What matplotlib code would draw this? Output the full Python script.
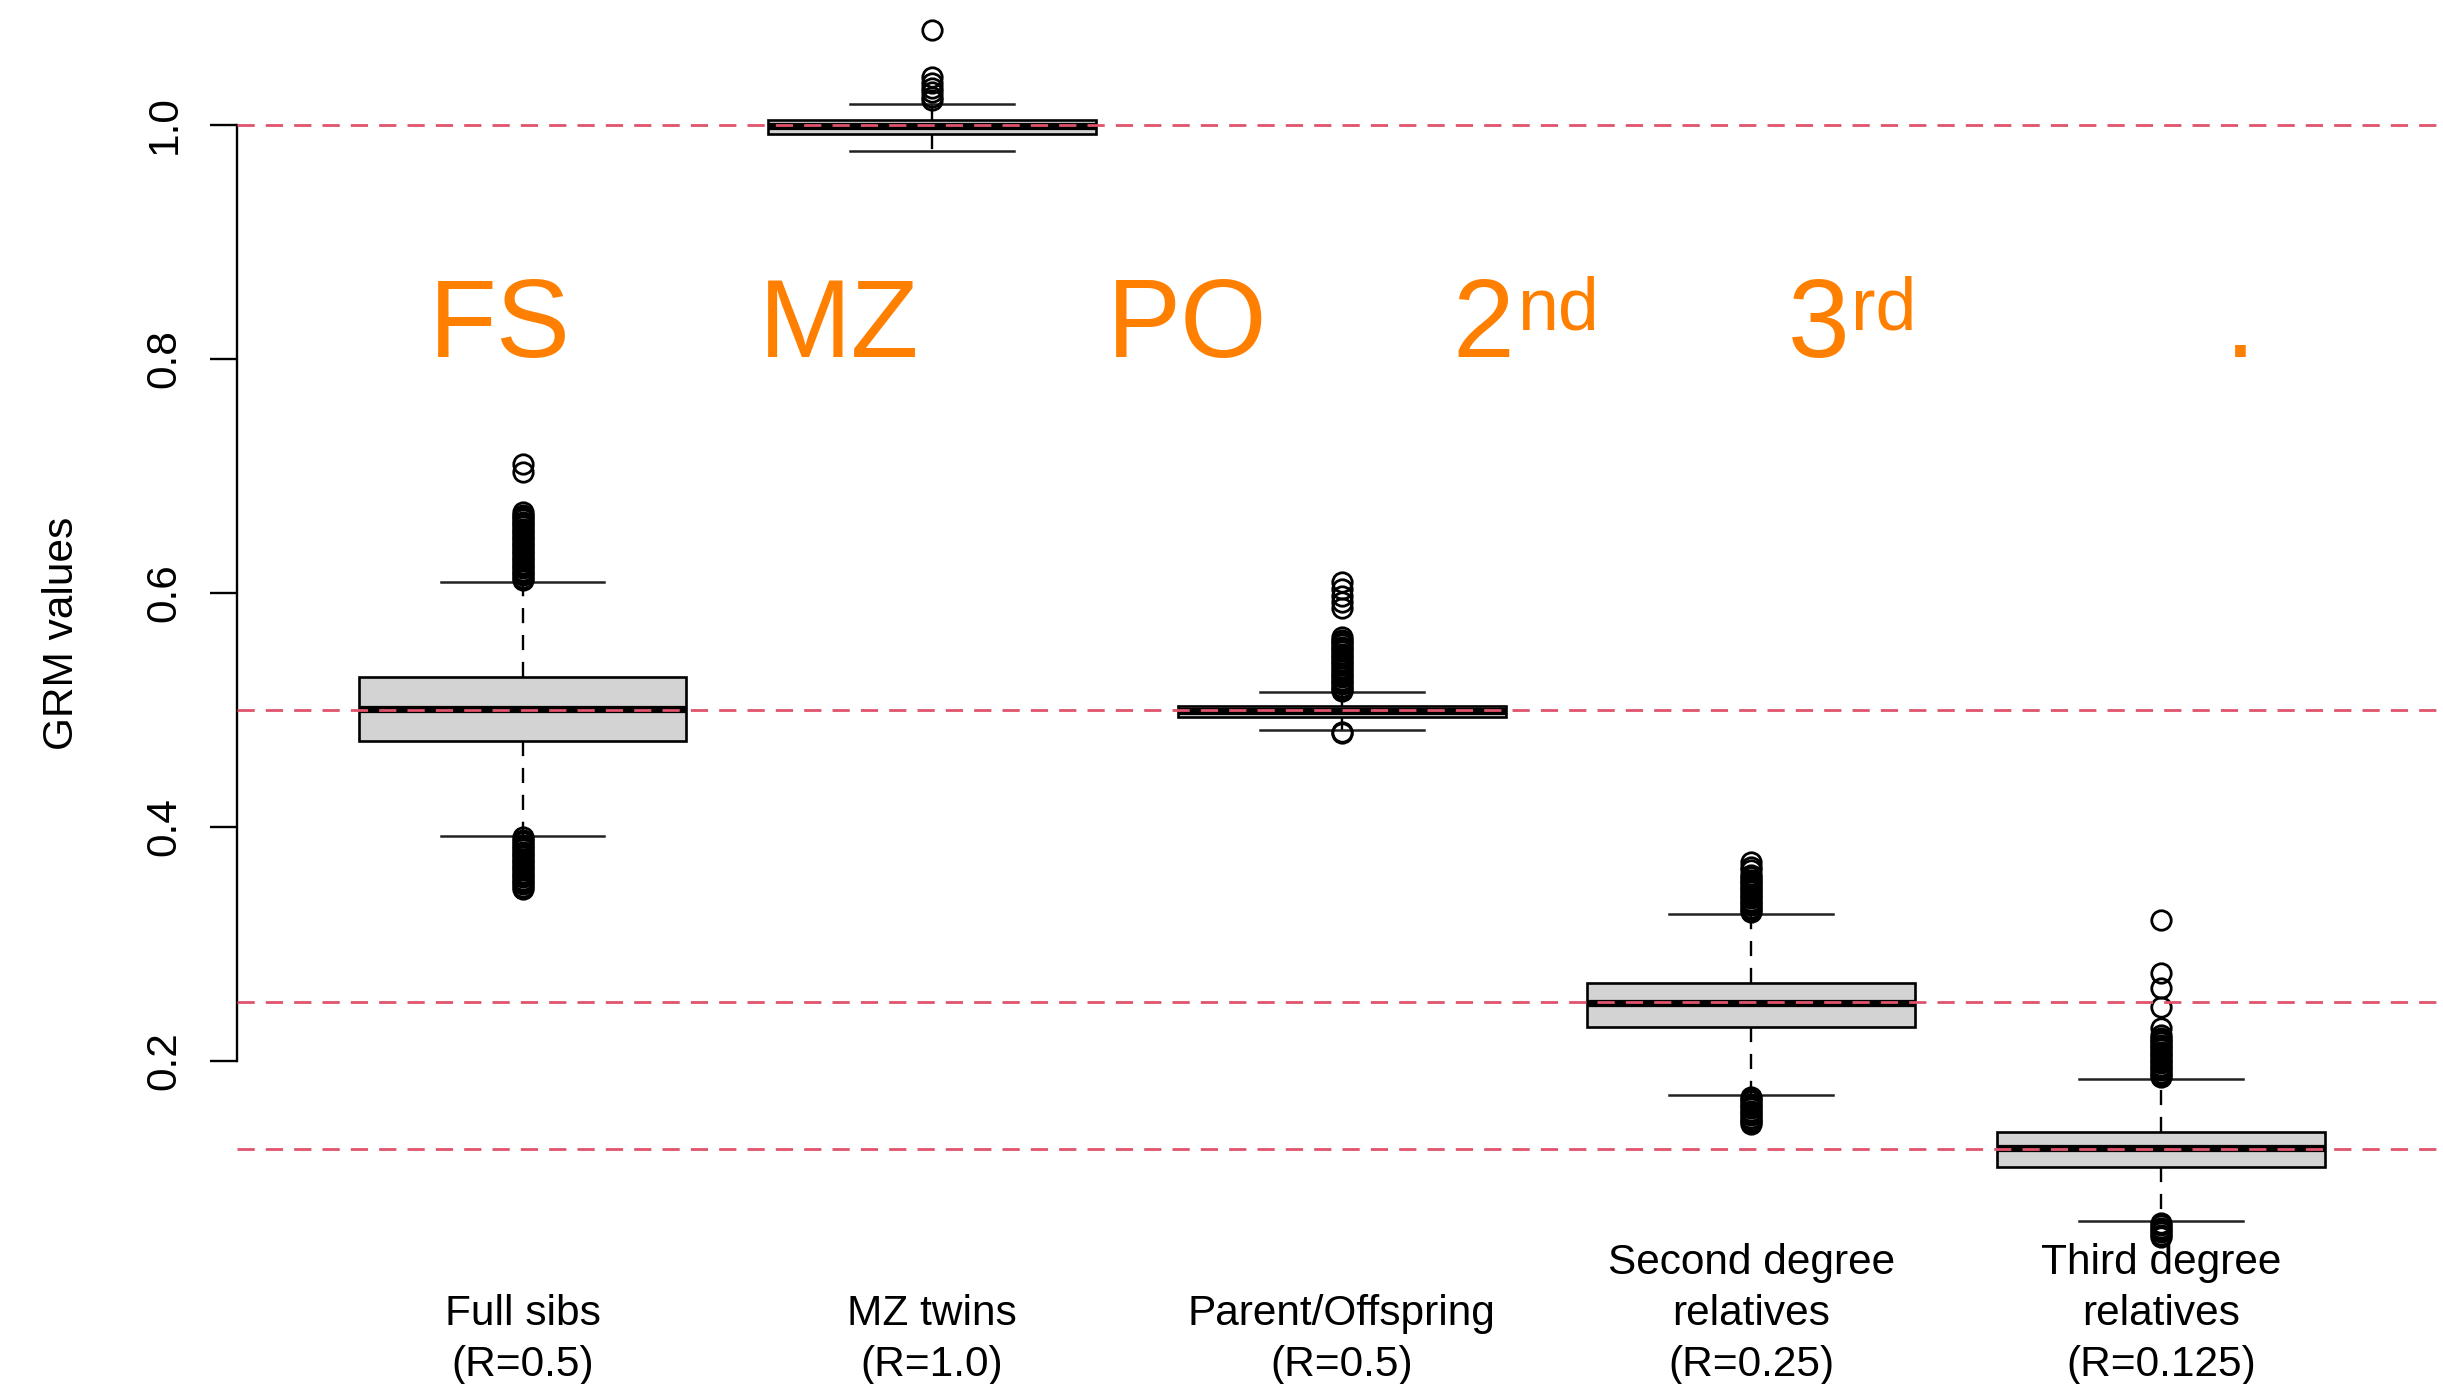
import matplotlib
matplotlib.use("Agg")
import matplotlib.pyplot as plt
from matplotlib.transforms import blended_transform_factory

plt.rcParams['font.family'] = ['Liberation Sans', 'DejaVu Sans']

# ---- data -------------------------------------------------------------
categories = [
    "Full sibs\n(R=0.5)",
    "MZ twins\n(R=1.0)",
    "Parent/Offspring\n(R=0.5)",
    "Second degree\nrelatives\n(R=0.25)",
    "Third degree\nrelatives\n(R=0.125)",
]
expected_r = [1.0, 0.5, 0.25, 0.125]

q1 = [0.4738, 0.9920, 0.4943, 0.2288, 0.1091]
medians = [0.5006, 0.9990, 0.4994, 0.2498, 0.1254]
q3 = [0.5285, 1.0043, 0.5037, 0.2669, 0.1390]
whisker_low = [0.3923, 0.9780, 0.4829, 0.1709, 0.0632]
whisker_high = [0.6097, 1.0182, 0.5151, 0.3256, 0.1843]

outliers_fs = [
    0.611, 0.613, 0.615, 0.617, 0.619, 0.621, 0.623, 0.625, 0.627, 0.629,
    0.631, 0.633, 0.635, 0.637, 0.639, 0.641, 0.643, 0.645, 0.647, 0.649,
    0.651, 0.653, 0.655, 0.657, 0.659, 0.661, 0.663, 0.665, 0.667, 0.669,
    0.703, 0.710,
    0.391, 0.389, 0.387, 0.385, 0.383, 0.381, 0.379, 0.377, 0.375, 0.373,
    0.371, 0.369, 0.367, 0.365, 0.363, 0.361, 0.359, 0.357, 0.355, 0.353,
    0.351, 0.349, 0.347,
]
outliers_mz = [1.021, 1.024, 1.028, 1.032, 1.036, 1.041, 1.081]
outliers_po = [
    0.516, 0.518, 0.520, 0.522, 0.524, 0.526, 0.528, 0.530, 0.532, 0.534,
    0.536, 0.538, 0.540, 0.542, 0.544, 0.546, 0.548, 0.550, 0.552, 0.554,
    0.556, 0.558, 0.560, 0.562,
    0.587, 0.592, 0.597, 0.603, 0.609,
    0.4815, 0.4800,
]
outliers_2nd = [
    0.327, 0.329, 0.331, 0.333, 0.335, 0.337, 0.339, 0.341, 0.343, 0.345,
    0.347, 0.349, 0.351, 0.353, 0.355, 0.357, 0.359,
    0.363, 0.366, 0.370,
    0.1695, 0.1675, 0.1655, 0.1635, 0.1615, 0.1595, 0.1575, 0.1555, 0.1535,
    0.1515, 0.1495, 0.1475, 0.146,
]
outliers_3rd = [
    0.186, 0.188, 0.190, 0.192, 0.194, 0.196, 0.198, 0.200, 0.202, 0.204,
    0.206, 0.208, 0.210, 0.212, 0.214, 0.216, 0.218, 0.220, 0.222,
    0.2282, 0.2464, 0.2624, 0.2752, 0.3205,
    0.0615, 0.0595, 0.0575, 0.0555, 0.0535, 0.0515, 0.0495,
]
outliers = [outliers_fs, outliers_mz, outliers_po, outliers_2nd, outliers_3rd]

y_ticks = [0.2, 0.4, 0.6, 0.8, 1.0]
y_tick_labels = ["0.2", "0.4", "0.6", "0.8", "1.0"]

# ---- figure -------------------------------------------------------------
W, H = 2443, 1384
fig = plt.figure(figsize=(W / 100, H / 100), dpi=100)
spine_px = 236.7
ax = fig.add_axes([spine_px / W, 0, 1 - spine_px / W, 1])
ax.set_xlim(0.302, 5.689)
ax.set_ylim(-0.0761, 1.1068)

stats = []
for i in range(len(categories)):
    stats.append(dict(med=medians[i], q1=q1[i], q3=q3[i],
                      whislo=whisker_low[i], whishi=whisker_high[i],
                      fliers=outliers[i]))

positions = list(range(1, len(categories) + 1))
ax.bxp(stats, positions=positions, widths=0.8, capwidths=0.4,
       patch_artist=True, manage_ticks=False,
       boxprops=dict(facecolor='#D3D3D3', edgecolor='black', linewidth=1.9),
       medianprops=dict(color='black', linewidth=5.2, solid_capstyle='butt'),
       whiskerprops=dict(color='black', linewidth=1.7, linestyle=(0, (6.4, 5.0))),
       capprops=dict(color='#222222', linewidth=1.8),
       flierprops=dict(marker='o', markerfacecolor='none', markeredgecolor='black',
                       markersize=14, markeredgewidth=2.0, linestyle='none'))

# reference relatedness levels
for r in expected_r:
    ax.axhline(r, color='#DF536B', linewidth=2.0, linestyle=(0, (6.2, 4.0)), zorder=5)

# axes styling
for side in ['top', 'right', 'bottom']:
    ax.spines[side].set_visible(False)
ax.spines['left'].set_bounds(0.2, 1.0)
ax.spines['left'].set_linewidth(1.7)
ax.set_xticks([])
ax.set_yticks(y_ticks, y_tick_labels, rotation=90, va='center')
ax.tick_params(axis='y', direction='out', length=19.4, width=1.7,
               labelsize=30.5, pad=18.2)
ax.set_ylabel("GRM values", fontsize=30.5)
ax.yaxis.set_label_coords((82 - spine_px) / (W - spine_px), (H - 633) / H)
ax.patch.set_alpha(0)

# group labels under the boxes
trans = blended_transform_factory(ax.transData, fig.transFigure)
for p, lab in zip(positions, categories):
    ax.text(p, -1 / H, lab, transform=trans, ha='center', va='bottom',
            fontsize=30.5, linespacing=1.36, multialignment='center', clip_on=False)

# relationship tags
orange = '#FF8000'
base_main = 1 - 357 / H
base_sup = 1 - 330 / H
fig.text(499.7 / W, base_main, "FS", color=orange, fontsize=80, ha='center', va='baseline')
fig.text(839.2 / W, base_main, "MZ", color=orange, fontsize=80, ha='center', va='baseline')
fig.text(1186.7 / W, base_main, "PO", color=orange, fontsize=80, ha='center', va='baseline')
fig.text(1452.7 / W, base_main, "2", color=orange, fontsize=80, ha='left', va='baseline')
fig.text(1516.7 / W, base_sup, "nd", color=orange, fontsize=53, ha='left', va='baseline')
fig.text(1788.0 / W, base_main, "3", color=orange, fontsize=80, ha='left', va='baseline')
fig.text(1851.5 / W, base_sup, "rd", color=orange, fontsize=53, ha='left', va='baseline')
fig.text(2240.5 / W, base_main, ".", color=orange, fontsize=80, ha='center', va='baseline')

fig.savefig("out.png", dpi=100, facecolor='white')
